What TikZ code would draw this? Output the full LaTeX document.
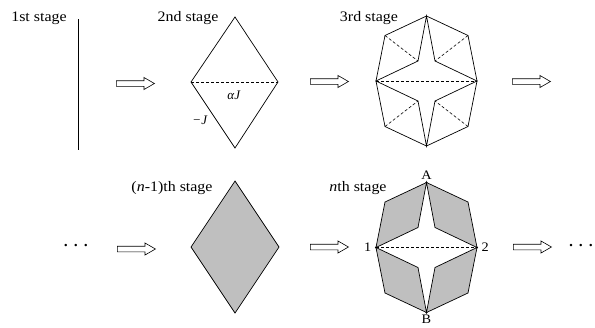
\documentclass[tikz,border=0pt]{standalone}
\usepackage{fontspec}
\setmainfont{Liberation Serif}
\usetikzlibrary{shapes.arrows}

\tikzset{
  stagelabel/.style={font=\fontsize{14.5}{16}\selectfont, xscale=1.1, inner sep=0, anchor=base},
  ptlabel/.style={font=\fontsize{13}{15}\selectfont, xscale=1.1, inner sep=0},
  edgelabel/.style={font=\fontsize{13}{15}\selectfont, inner sep=0},
  stagearrow/.style={draw, single arrow, single arrow head extend=3.2pt,
    single arrow tip angle=60, minimum height=38pt, minimum width=11.5pt,
    inner sep=2.5pt, line width=0.6pt},
  thin line/.style={line width=0.7pt},
  fold/.style={line width=0.6pt, dash pattern=on 3pt off 2pt}
}

\begin{document}
\begin{tikzpicture}[x=1pt,y=-1pt]
  \useasboundingbox (0,0) rectangle (595,327);

  % first row
  \node[stagelabel] (lab1) at (39,21) {1st stage};
  \draw[thin line] (78,19) -- (78,150);
  \node[stagearrow] (arr1) at (133,83.5) {};

  \node[stagelabel] (lab2) at (188,21) {2nd stage};
  \draw[thin line] (235,17) -- (278,82) -- (235,148) -- (191,82) -- cycle;
  \draw[fold] (191,82) -- (278,82);
  \node[edgelabel] (aJ) at (234,95) {\textit{αJ}};
  \node[edgelabel] (mJ) at (200,120) {\textit{−J}};
  \node[stagearrow] (arr2) at (327,81.5) {};

  \node[stagelabel] (lab3) at (369,21) {3rd stage};
  \begin{scope}[shift={(426.5,81)}]
    \coordinate (A) at (0,-65);   \coordinate (B) at (0,65);
    \coordinate (L) at (-50.5,0); \coordinate (R) at (50.5,0);
    \coordinate (oUL) at (-41.5,-45.5); \coordinate (oUR) at (41.5,-45.5);
    \coordinate (oLL) at (-41.5,45.5);  \coordinate (oLR) at (41.5,45.5);
    \coordinate (iUL) at (-8.5,-20); \coordinate (iUR) at (8.5,-20);
    \coordinate (iLL) at (-8.5,20);  \coordinate (iLR) at (8.5,20);
    \draw[thin line] (A) -- (oUR) -- (R) -- (oLR) -- (B) -- (oLL) -- (L) -- (oUL) -- cycle;
    \draw[thin line] (A) -- (iUR) -- (R) -- (iLR) -- (B) -- (iLL) -- (L) -- (iUL) -- cycle;
    \draw[fold] (L) -- (R);
    \foreach \c in {UL,UR,LL,LR} \draw[fold] (o\c) -- (i\c);
  \end{scope}
  \node[stagearrow] (arr3) at (529,81.5) {};

  % second row
  \node[font=\fontsize{15}{16}\selectfont\bfseries, inner sep=0] (dots1) at (76,247)
    {\textperiodcentered\hspace{5pt}\textperiodcentered\hspace{5pt}\textperiodcentered};
  \node[stagearrow] (arr4) at (134,249) {};

  \node[stagelabel] (lab4) at (172,191) {(\textit{n}-1)th stage};
  \filldraw[thin line, fill=gray!50] (235,181) -- (279,247) -- (235,313) -- (191,247) -- cycle;
  \node[stagearrow] (arr5) at (327,247) {};

  \node[stagelabel] (lab5) at (358,191) {\textit{n}th stage};
  \begin{scope}[shift={(426.5,247.5)}]
    \coordinate (A) at (0,-65);   \coordinate (B) at (0,65);
    \coordinate (L) at (-50.5,0); \coordinate (R) at (50.5,0);
    \coordinate (oUL) at (-41.5,-45.5); \coordinate (oUR) at (41.5,-45.5);
    \coordinate (oLL) at (-41.5,45.5);  \coordinate (oLR) at (41.5,45.5);
    \coordinate (iUL) at (-8.5,-20); \coordinate (iUR) at (8.5,-20);
    \coordinate (iLL) at (-8.5,20);  \coordinate (iLR) at (8.5,20);
    \fill[gray!50, even odd rule]
      (A) -- (oUR) -- (R) -- (oLR) -- (B) -- (oLL) -- (L) -- (oUL) -- cycle
      (A) -- (iUR) -- (R) -- (iLR) -- (B) -- (iLL) -- (L) -- (iUL) -- cycle;
    \draw[thin line] (A) -- (oUR) -- (R) -- (oLR) -- (B) -- (oLL) -- (L) -- (oUL) -- cycle;
    \draw[thin line] (A) -- (iUR) -- (R) -- (iLR) -- (B) -- (iLL) -- (L) -- (iUL) -- cycle;
    \draw[fold] (L) -- (R);
    \foreach \p in {A,B,L,R} \fill (\p) circle (1.1pt);
    \node[ptlabel, above=3pt] (labA) at (A) {A};
    \node[ptlabel, below=2pt] (labB) at (B) {B};
    \node[ptlabel, left=4pt] (lab1pt) at (L) {1};
    \node[ptlabel, right=4pt] (lab2pt) at (R) {2};
  \end{scope}
  \node[stagearrow] (arr6) at (530,247) {};

  \node[font=\fontsize{15}{16}\selectfont\bfseries, inner sep=0] (dots2) at (581,247)
    {\textperiodcentered\hspace{5pt}\textperiodcentered\hspace{5pt}\textperiodcentered};
\end{tikzpicture}
\end{document}
